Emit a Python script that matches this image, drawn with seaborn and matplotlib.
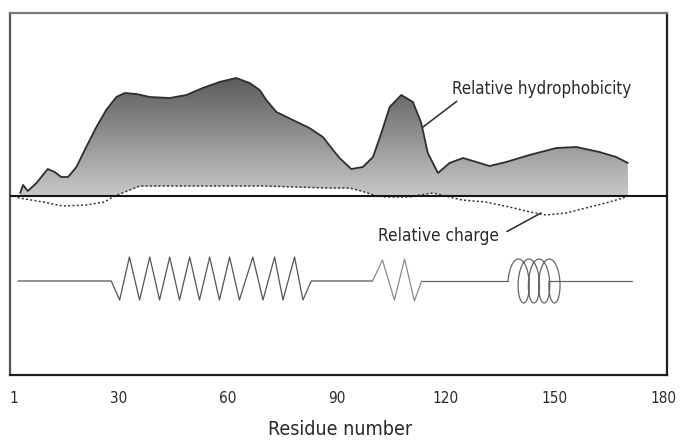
import numpy as np
import matplotlib
matplotlib.use("Agg")
import matplotlib.pyplot as plt
import seaborn as sns
from matplotlib.colors import LinearSegmentedColormap

# ---------------------------------------------------------------------------
# Data (residue number, relative value)
# ---------------------------------------------------------------------------
hydro_res = [2.8, 3.6, 4.9, 7.3, 10.4, 12.3, 14.1, 16.0, 18.3, 21.0, 23.8, 26.5,
             29.3, 31.6, 34.8, 38.5, 44.0, 48.6, 53.1, 57.7, 62.3, 66.0, 68.8,
             70.6, 73.4, 77.9, 82.5, 86.2, 89.0, 90.8, 94.0, 97.2, 100.0, 102.3,
             104.6, 107.8, 111.0, 113.3, 115.1, 117.9, 121.1, 124.8, 128.5,
             132.1, 136.7, 143.1, 150.5, 156.0, 162.4, 167.0, 170.2, 170.3]
hydro_val = [3, 11, 5, 13, 27, 24, 19, 19, 29, 49, 69, 86,
             99, 103, 102, 99, 98, 101, 108, 114, 118, 113, 106,
             96, 84, 76, 68, 59, 46, 38, 27, 29, 39, 63,
             89, 101, 94, 73, 43, 23, 33, 38, 34,
             30, 34, 41, 48, 49, 44, 39, 33, 0]

charge_res = [1.0, 2.6, 9.1, 14.6, 21.0, 26.0, 28.3, 33.0, 35.7, 50.0, 70.0, 88.0,
              93.5, 96.8, 101.0, 104.0, 110.0, 113.0, 116.5, 120.0, 124.5, 131.0,
              137.6, 143.2, 147.7, 153.2, 159.7, 165.2, 168.8, 170.2]
charge_val = [0, -2, -6, -10, -9, -6, -1, 6, 10, 10, 10, 8,
              8, 5, 0, -1, -1, 1, 3, 0, -4, -6,
              -11, -16, -19, -17, -11, -6, -2, 0]

# secondary structure trace: flat coil + long zigzag helix
ss_res = [2.2, 27.9, 30.2, 32.9, 35.7, 38.5, 41.2, 44.0, 46.7, 49.5, 52.2, 55.0,
          57.7, 60.5, 63.2, 66.9, 69.7, 72.9, 75.2, 78.4, 80.7, 83.0, 99.9]
ss_val = [-85, -85, -104, -61, -104, -61, -104, -61, -104, -61, -104, -61,
          -104, -61, -104, -61, -104, -61, -104, -61, -104, -85, -85]
short_res = [99.9, 102.6, 105.9, 108.7, 111.4, 113.4]
short_val = [-85, -64, -104, -63, -105, -85]
link_res = [113.4, 137.2]
tail_res = [148.5, 171.3]
coil_start, coil_end, coil_turns = 137.2, 148.5, 4
ss_level = -85

xticks = [1, 30, 60, 90, 120, 150, 180]

# ---------------------------------------------------------------------------
sns.set_theme(style="white")
plt.rcParams["font.family"] = ["DejaVu Sans"]
plt.rcParams["font.stretch"] = "condensed"
txt = "#2a2a2a"

fig = plt.figure(figsize=(6.8, 4.4), dpi=100)
ax = fig.add_axes([10 / 680, 65 / 440, 657 / 680, 362 / 440])

# gradient-filled hydrophobicity profile
poly = ax.fill_between(hydro_res, hydro_val, 0, color="none", linewidth=0)
cmap = LinearSegmentedColormap.from_list("g", ["#c8c8c8", "#5a5a5a"])
grad = np.linspace(0, 1, 256).reshape(-1, 1)
im = ax.imshow(grad, cmap=cmap, origin="lower", aspect="auto",
               extent=[0, 181, 0, 120], zorder=1)
im.set_clip_path(poly.get_paths()[0], transform=ax.transData)
ax.set_xlim(0, 181)
ax.set_ylim(-179, 183)

# white strip between positive charge and baseline
cpos = np.clip(charge_val, 0, None)
ax.fill_between(charge_res, cpos, 0, color="white", linewidth=0, zorder=2)

sns.lineplot(x=hydro_res[:-1], y=hydro_val[:-1], sort=False, ax=ax,
             color="#2e2e2e", linewidth=1.3, zorder=3)
sns.lineplot(x=charge_res, y=charge_val, sort=False, ax=ax, color="#333333",
             linewidth=1.1, linestyle=(0, (1.3, 1.5)), zorder=3)
ax.axhline(0, color="#151515", linewidth=1.5, zorder=4)

# secondary structure row
sns.lineplot(x=ss_res, y=ss_val, sort=False, ax=ax, color="#555555", linewidth=0.9)
sns.lineplot(x=short_res, y=short_val, sort=False, ax=ax, color="#8a8a8a", linewidth=0.9)
sns.lineplot(x=link_res, y=[ss_level] * 2, ax=ax, color="#666666", linewidth=0.9)
sns.lineplot(x=tail_res, y=[ss_level] * 2, ax=ax, color="#666666", linewidth=0.9)

# coil glyph: looping spring between coil_start and coil_end
t = np.linspace(0, 2 * np.pi * coil_turns, 400)
k = (coil_end - coil_start) / (2 * np.pi * coil_turns)
cx = coil_start + k * t + 2.2 * (1 - np.cos(t))
cy = ss_level + 22 * np.sin(t)
ax.plot(cx, cy, color="#666666", linewidth=0.9)

# annotations
ax.annotate("Relative hydrophobicity", xy=(113.8, 69), xytext=(121.8, 98),
            fontsize=12.2, color=txt, va="bottom",
            arrowprops=dict(arrowstyle="-", color=txt, lw=1.1,
                            shrinkA=0, shrinkB=0, relpos=(0.05, 0)))
ax.annotate("Relative charge", xy=(146.3, -17), xytext=(101.3, -40),
            fontsize=12.4, color=txt, va="center",
            arrowprops=dict(arrowstyle="-", color=txt, lw=1.1,
                            shrinkA=4, shrinkB=0, relpos=(1, 0.5)))

# axes styling
ax.set_xticks(xticks)
ax.set_xticklabels([str(v) for v in xticks], fontsize=11, color=txt)
ax.set_yticks([])
ax.tick_params(axis="x", direction="inout", length=7, width=1.2,
               color="#222222", pad=8)
for side, col in [("top", "#7a7a7a"), ("left", "#555555"),
                  ("right", "#1e1e1e"), ("bottom", "#1e1e1e")]:
    ax.spines[side].set_visible(True)
    ax.spines[side].set_color(col)
    ax.spines[side].set_linewidth(1.6)

fig.text(0.5, 1 - 420 / 440, "Residue number", ha="center", va="top",
         fontsize=14, color=txt)

fig.savefig("out.png", dpi=100)
